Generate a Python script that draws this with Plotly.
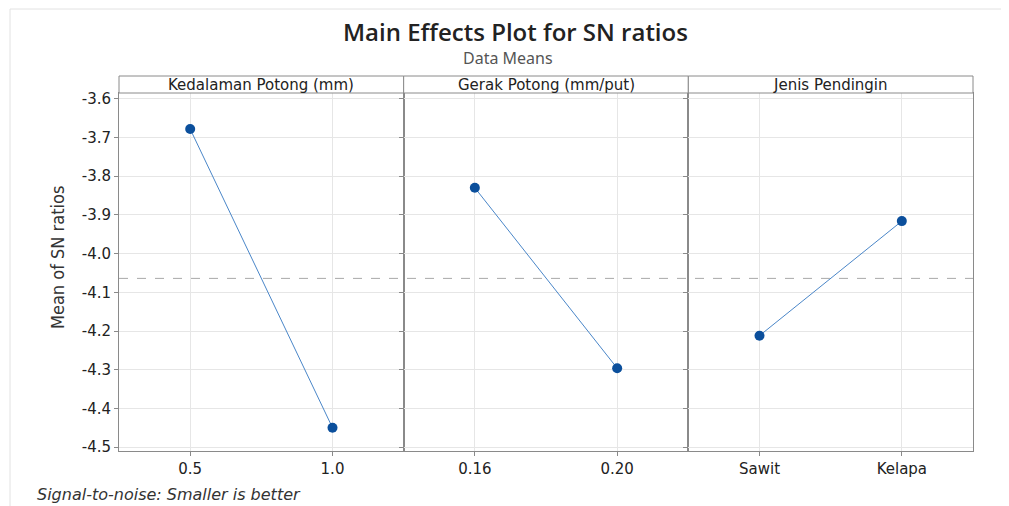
import plotly.graph_objects as go
from plotly.subplots import make_subplots

factors = ["Kedalaman Potong (mm)", "Gerak Potong (mm/put)", "Jenis Pendingin"]
levels_1 = ["0.5", "1.0"]
levels_2 = ["0.16", "0.20"]
levels_3 = ["Sawit", "Kelapa"]
means_1 = [-3.678, -4.450]
means_2 = [-3.830, -4.296]
means_3 = [-4.212, -3.916]
overall_mean = -4.064
y_ticks = [-3.6, -3.7, -3.8, -3.9, -4.0, -4.1, -4.2, -4.3, -4.4, -4.5]

levels = [levels_1, levels_2, levels_3]
means = [means_1, means_2, means_3]

W, H = 1009, 506
OFF = 8  # page body margin
PX0, PX1, PY0, PY1 = 119, 973, 93, 451
L = PX0 - OFF
T = PY0 - OFF
R = W - (PX1 - OFF)
B = H - (PY1 - OFF)
plot_w = PX1 - PX0
plot_h = PY1 - PY0


def pxx(x):
    return (x - PX0) / plot_w


def pxy(y):
    return 1 - (y - PY0) / plot_h


fig = make_subplots(rows=1, cols=3, shared_yaxes=True, horizontal_spacing=0)

for i in range(3):
    fig.add_trace(go.Scatter(
        x=levels[i], y=means[i], mode="lines+markers",
        line=dict(color="#4A86C8", width=1),
        marker=dict(color="#0B4F9C", size=10, symbol="circle"),
        showlegend=False, hoverinfo="x+y"), row=1, col=i + 1)
    fig.update_xaxes(type="category", range=[-0.5, 1.5],
                     showgrid=True, gridcolor="#E6E6E6", gridwidth=1,
                     showline=True, linecolor="#8A8A8A", linewidth=1, mirror=True,
                     ticks="outside", ticklen=4, tickcolor="#8A8A8A",
                     tickfont=dict(family="DejaVu Sans", size=15, color="#222"),
                     zeroline=False, row=1, col=i + 1)

fig.update_yaxes(range=[-4.510, -3.585], tickvals=y_ticks,
                 ticktext=[f"{v:.1f}" for v in y_ticks],
                 showgrid=True, gridcolor="#E6E6E6", gridwidth=1,
                 showline=True, linecolor="#8A8A8A", linewidth=1, mirror=True,
                 ticks="outside", ticklen=4, tickcolor="#8A8A8A",
                 tickfont=dict(family="DejaVu Sans", size=15, color="#222"),
                 zeroline=False)

shapes = []
shapes.append(dict(type="line", xref="paper", yref="y", x0=0, x1=1,
                   y0=overall_mean, y1=overall_mean,
                   line=dict(color="#A8A8A8", width=1, dash="dash")))
for i in range(3):
    shapes.append(dict(type="rect", xref="paper", yref="paper",
                       x0=i / 3, x1=(i + 1) / 3, y0=1, y1=pxy(76),
                       line=dict(color="#8A8A8A", width=1), fillcolor="white"))
shapes.append(dict(type="rect", xref="paper", yref="paper",
                   x0=pxx(10), x1=pxx(1030), y0=pxy(530), y1=pxy(9),
                   line=dict(color="#E2E2E2", width=1), fillcolor="rgba(0,0,0,0)",
                   layer="below"))

annotations = []
for i in range(3):
    annotations.append(dict(text=factors[i], xref="paper", yref="paper",
                            x=(i + 0.5) / 3, y=pxy(85), showarrow=False,
                            font=dict(family="DejaVu Sans", size=15, color="#222"),
                            xanchor="center", yanchor="middle"))
annotations.append(dict(text="Main Effects Plot for SN ratios", xref="paper", yref="paper",
                        x=pxx(515), y=pxy(31), showarrow=False,
                        font=dict(family="Open Sans", size=24, color="#222", weight=600),
                        xanchor="center", yanchor="middle"))
annotations.append(dict(text="Data Means", xref="paper", yref="paper",
                        x=pxx(508), y=pxy(58), showarrow=False,
                        font=dict(family="Noto Sans", size=16, color="#555"),
                        xanchor="center", yanchor="middle"))
annotations.append(dict(text="Mean of SN ratios", xref="paper", yref="paper",
                        x=pxx(57), y=pxy(258), showarrow=False, textangle=-90,
                        font=dict(family="Liberation Sans Narrow, DejaVu Sans Condensed", size=18, color="#333"),
                        xanchor="center", yanchor="middle"))
annotations.append(dict(text="<i>Signal-to-noise: Smaller is better</i>",
                        xref="paper", yref="paper",
                        x=pxx(35), y=pxy(494),
                        showarrow=False, font=dict(family="DejaVu Sans", size=16, color="#333"),
                        xanchor="left", yanchor="middle"))

fig.update_layout(
    width=W, height=H,
    margin=dict(l=L, r=R, t=T, b=B),
    paper_bgcolor="white", plot_bgcolor="white",
    shapes=shapes, annotations=annotations,
)

fig.write_html("out.html")
